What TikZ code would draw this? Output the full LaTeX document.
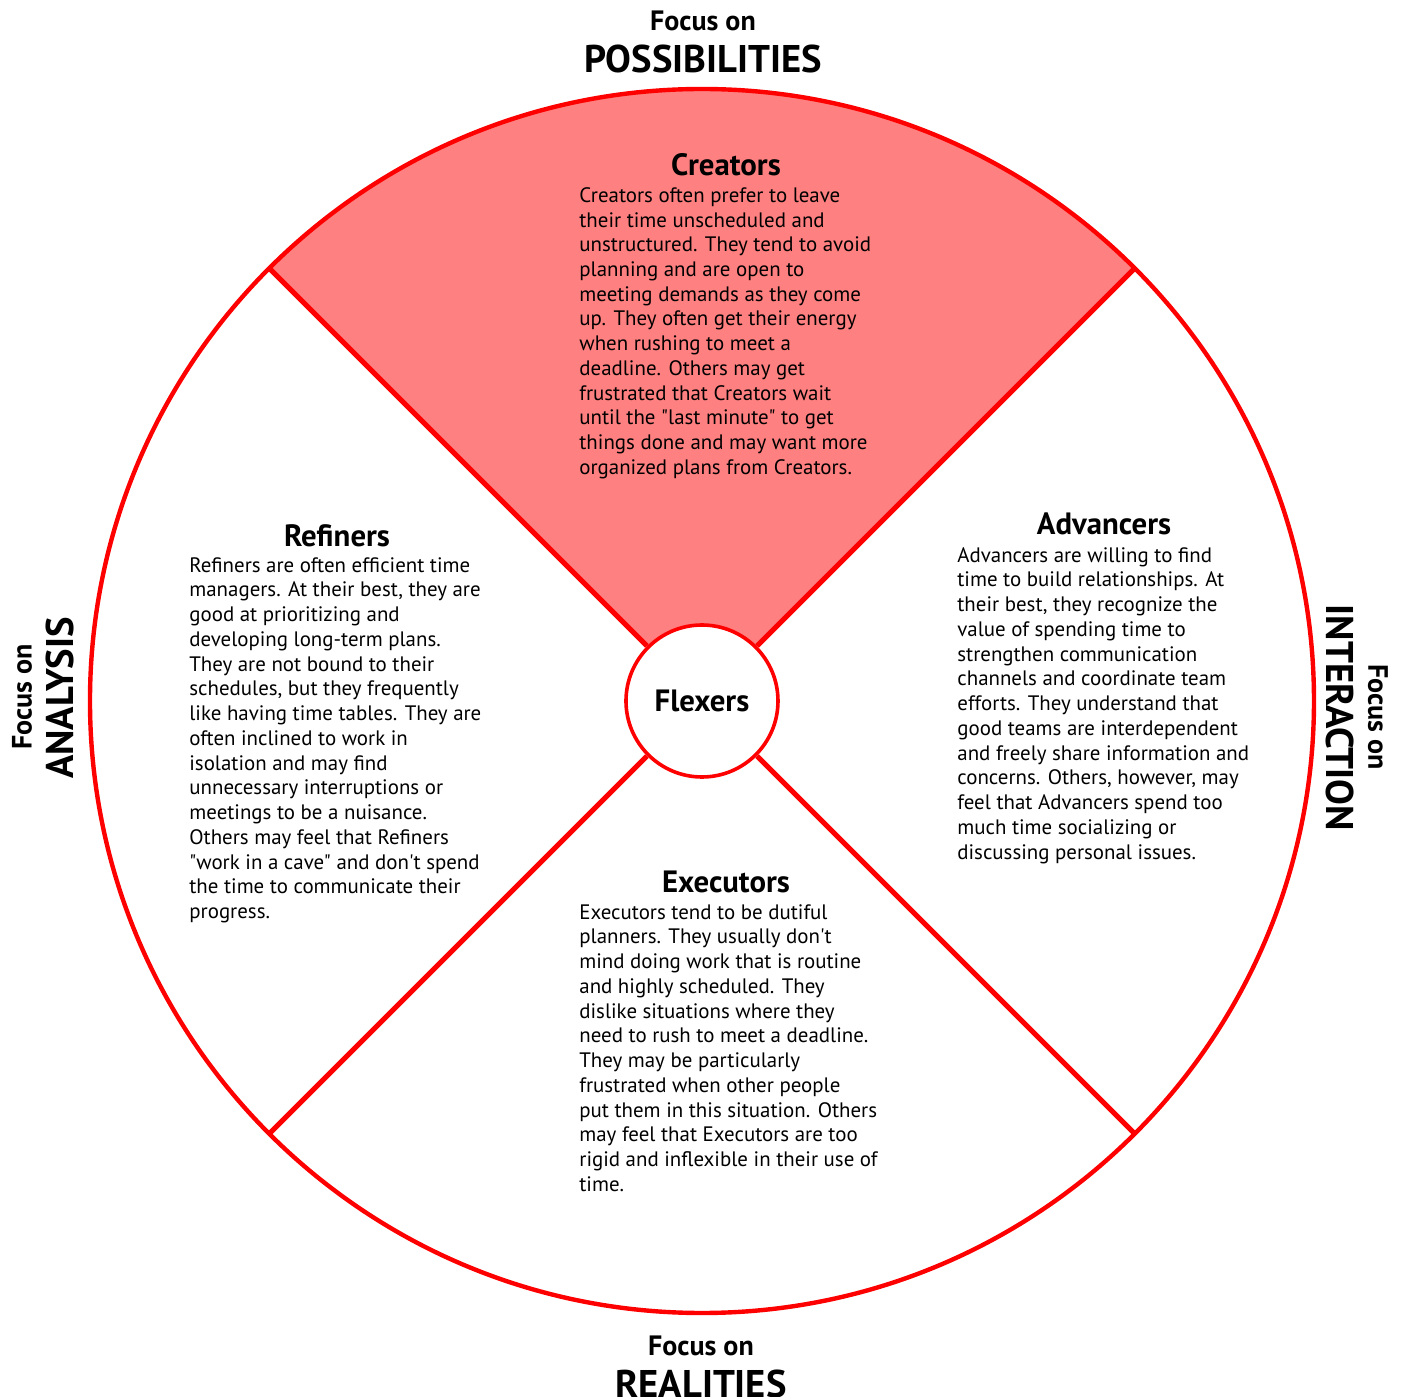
\documentclass[tikz,border=0pt]{standalone}
\usepackage{fontspec}
\setmainfont{PT Sans}[Ligatures=TeXOff]
\usetikzlibrary{calc}

\begin{document}
\begin{tikzpicture}[x=0.5pt,y=0.5pt,
    wheel/.style={draw=red,line width=2.2pt,circle,minimum size=612pt,inner sep=0pt,outer sep=0pt},
    hub/.style={draw=red,fill=white,line width=1.8pt,circle,minimum size=76pt,inner sep=0pt,font=\fontsize{15.4}{17}\bfseries},
    spoke/.style={draw=red,line width=2.6pt},
    wedge/.style={fill={rgb,255:red,255;green,128;blue,128}},
    title/.style={font=\fontsize{15.4}{17}\bfseries,inner sep=0pt},
    body/.style={align=left,anchor=north west,inner sep=0pt,font=\fontsize{10.45}{12.37}\selectfont},
    focus/.style={font=\fontsize{14}{16}\bfseries,inner sep=0pt},
    side/.style={font=\fontsize{19.3}{21}\bfseries,inner sep=0pt}]
    \useasboundingbox (-702,-696) rectangle (703,701);
    \fill[wedge] (45:612) arc[start angle=45,end angle=135,radius=612] -- (135:76) arc[start angle=135,end angle=45,radius=76] -- cycle;
    \node[wheel] at (0,0) (wh) {};
    \node[hub] at (0,0) (fl) {Flexers};
    \foreach \a in {45,135,225,315}
        \draw[spoke] (fl.\a) -- (wh.\a);

    \node[focus] at (1,680) (posf) {Focus on};
    \node[side] at (1,642) (pos) {POSSIBILITIES};
    \node[focus] at (-1,-645) (realf) {Focus on};
    \node[side] at (-1,-683) (real) {REALITIES};
    \node[focus,rotate=90] at (-680,4) (anf) {Focus on};
    \node[side,rotate=90] at (-642,3) (an) {ANALYSIS};
    \node[side,rotate=-90] at (638,-17) (int) {INTERACTION};
    \node[focus,rotate=-90] at (676,-16) (intf) {Focus on};

    \node[title] at (24,536) (cr) {Creators};
    \node[body] at (-123,514) (crtext) {Creators often prefer to leave\\their time unscheduled and\\unstructured. They tend to avoid\\planning and are open to\\meeting demands as they come\\up. They often get their energy\\when rushing to meet a\\deadline. Others may get\\frustrated that Creators wait\\until the "last minute" to get\\things done and may want more\\organized plans from Creators.};
    \node[title] at (-365,165) (re) {Refiners};
    \node[body] at (-513,144) (retext) {Refiners are often efficient time\\managers. At their best, they are\\good at prioritizing and\\developing long-term plans.\\They are not bound to their\\schedules, but they frequently\\like having time tables. They are\\often inclined to work in\\isolation and may find\\unnecessary interruptions or\\meetings to be a nuisance.\\Others may feel that Refiners\\"work in a cave" and don't spend\\the time to communicate their\\progress.};
    \node[title] at (402,177) (ad) {Advancers};
    \node[body] at (255,154) (adtext) {Advancers are willing to find\\time to build relationships. At\\their best, they recognize the\\value of spending time to\\strengthen communication\\channels and coordinate team\\efforts. They understand that\\good teams are interdependent\\and freely share information and\\concerns. Others, however, may\\feel that Advancers spend too\\much time socializing or\\discussing personal issues.};
    \node[title] at (24,-181) (ex) {Executors};
    \node[body] at (-123,-203) (extext) {Executors tend to be dutiful\\planners. They usually don't\\mind doing work that is routine\\and highly scheduled. They\\dislike situations where they\\need to rush to meet a deadline.\\They may be particularly\\frustrated when other people\\put them in this situation. Others\\may feel that Executors are too\\rigid and inflexible in their use of\\time.};
\end{tikzpicture}
\end{document}
